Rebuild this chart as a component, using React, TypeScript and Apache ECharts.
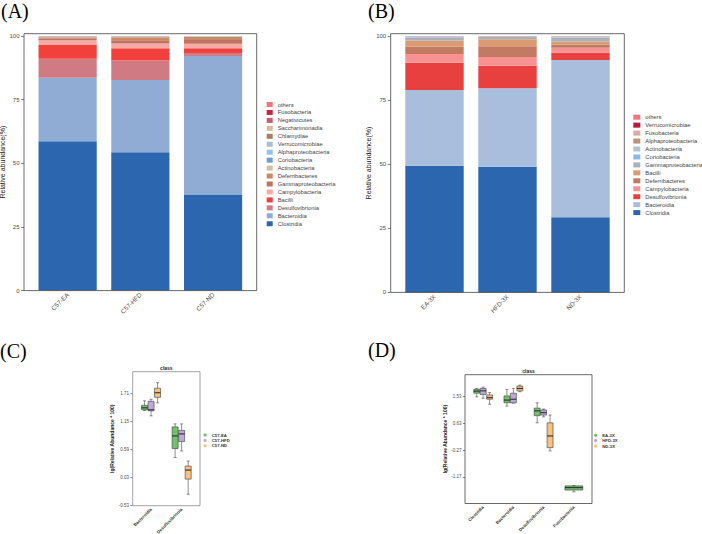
import React, { useEffect, useRef } from 'react';
import * as echarts from 'echarts';

const W = 702;
const H = 534;
const SANS = '"Liberation Sans", Arial, Helvetica, sans-serif';
const SERIF = '"Liberation Serif", "Times New Roman", serif';

// ---------- (A) class composition, C57 groups ----------
const aSamples = ['C57-EA', 'C57-HFD', 'C57-ND'];
const aClasses = [
  'Clostridia', 'Bacteroidia', 'Desulfovibrionia', 'Bacilli', 'Campylobacteria',
  'Gammaproteobacteria', 'Deferribacteres', 'Actinobacteria', 'Coriobacteria',
  'Alphaproteobacteria', 'Verrucomicrobiae', 'Chlamydiae', 'Saccharimonadia',
  'Negativicutes', 'Fusobacteria', 'others',
];
// relative abundance (%) per class, columns follow aSamples
const aAbundance = [
  [58.7, 54.3, 37.5],
  [24.9, 28.4, 54.6],
  [7.5, 7.7, 1.2],
  [5.4, 4.8, 1.9],
  [1.8, 1.9, 1.8],
  [0.6, 1.2, 1.4],
  [0.5, 1.2, 1.2],
  [0.15, 0.15, 0.15],
  [0.1, 0.1, 0.08],
  [0.05, 0.05, 0.03],
  [0.05, 0.05, 0.04],
  [0.05, 0.02, 0.02],
  [0.05, 0.03, 0.03],
  [0.05, 0.02, 0.02],
  [0.02, 0.01, 0.01],
  [0.08, 0.07, 0.02],
];
const aColors = [
  '#2c66af', '#91acd4', '#d07a83', '#f2403d', '#f8aaa5',
  '#c27262', '#c98a64', '#d9bca4', '#6a9fd2', '#92c3ea',
  '#aabdd0', '#a97e5c', '#d9bb9c', '#c95c6c', '#c9213e', '#f2747a',
];

// ---------- (B) class composition, 3X groups ----------
const bSamples = ['EA-3X', 'HFD-3X', 'ND-3X'];
const bClasses = [
  'Clostridia', 'Bacteroidia', 'Desulfovibrionia', 'Campylobacteria', 'Deferribacteres',
  'Bacilli', 'Gammaproteobacteria', 'Coriobacteria', 'Actinobacteria',
  'Alphaproteobacteria', 'Fusobacteria', 'Verrucomicrobiae', 'others',
];
const bAbundance = [
  [49.4, 49.0, 29.3],
  [29.5, 30.6, 61.3],
  [10.7, 8.8, 2.9],
  [3.4, 3.4, 1.9],
  [2.8, 4.2, 1.2],
  [2.4, 2.7, 1.3],
  [1.2, 0.9, 1.5],
  [0.2, 0.1, 0.1],
  [0.2, 0.15, 0.3],
  [0.05, 0.03, 0.05],
  [0.05, 0.05, 0.05],
  [0.02, 0.02, 0.02],
  [0.08, 0.05, 0.08],
];
const bColors = [
  '#2c66af', '#a9bedc', '#e8403f', '#f89292', '#c27a62',
  '#da9a72', '#a9b1ba', '#8abbe9', '#b2c2d2', '#b99272',
  '#dcaaa2', '#b91a42', '#f2747c',
];

const barTicks = [0, 25, 50, 75, 100];

// ---------- (C) boxplots, C57 groups ----------
const cCategories = ['Bacteroidia', 'Desulfovibrionia'];
const cGroups = ['C57-EA', 'C57-HFD', 'C57-ND'];
// [min, Q1, median, Q3, max] of lg(relative abundance * 100)
const cEA = [[1.37, 1.38, 1.42, 1.47, 1.56], [0.43, 0.61, 0.86, 1.04, 1.10]];
const cHFD = [[1.26, 1.36, 1.38, 1.55, 1.59], [0.56, 0.75, 0.90, 0.97, 1.10]];
const cND = [[1.52, 1.63, 1.72, 1.81, 1.92], [-0.30, 0.0, 0.18, 0.26, 0.36]];
const cTicks = [-0.53, 0.03, 0.59, 1.15, 1.71];

// ---------- (D) boxplots, 3X groups ----------
const dCategories = ['Clostridia', 'Bacteroidia', 'Desulfovibrionia', 'Fusobacteriia'];
const dGroups = ['EA-3X', 'HFD-3X', 'ND-3X'];
const dEA = [
  [1.51, 1.63, 1.70, 1.76, 1.79],
  [1.20, 1.31, 1.40, 1.54, 1.76],
  [0.64, 0.88, 1.04, 1.13, 1.31],
  [-1.67, -1.61, -1.53, -1.47, -1.46],
];
const dHFD = [
  [1.46, 1.59, 1.71, 1.79, 1.83],
  [1.30, 1.31, 1.43, 1.63, 1.79],
  [0.84, 0.90, 0.98, 1.07, 1.10],
  null,
];
const dND = [
  [1.26, 1.43, 1.48, 1.57, 1.65],
  [1.68, 1.71, 1.79, 1.87, 1.90],
  [-0.30, -0.19, 0.20, 0.64, 0.90],
  null,
];
const dTicks = [-1.17, -0.27, 0.63, 1.53];

const boxFills = ['#72c26c', '#bda9d9', '#f9c07f'];

type Frame = { x0: number; x1: number; y0: number; y1: number };

// ggplot-style discrete axis: 0.6 band of padding on each side of the outer categories
function bandLayout(f: Frame, n: number) {
  const unit = (f.x1 - f.x0) / (n - 1 + 1.2);
  return { unit, left: f.x0 + 0.1 * unit, width: n * unit, offset: 0.1 * unit };
}

function frameRect(f: Frame, stroke: string) {
  return {
    type: 'rect',
    silent: true,
    z: 20,
    shape: { x: f.x0, y: f.y0, width: f.x1 - f.x0, height: f.y1 - f.y0 },
    style: { fill: 'none', stroke, lineWidth: 0.8 },
  };
}

function panelLabel(text: string, x: number, y: number) {
  return {
    type: 'text',
    x,
    y,
    style: { text, font: `20px ${SERIF}`, fill: '#000', textAlign: 'left', textVerticalAlign: 'middle' },
  };
}

type BarCfg = {
  frame: Frame;
  samples: string[];
  classes: string[];
  values: number[][];
  colors: string[];
  yMax: number;
  nameGap: number;
  legendLeft: number;
  legendTop: number;
  legendIconW: number;
  label: string;
  labelX: number;
};

function stackedBarOption(c: BarCfg) {
  const g = bandLayout(c.frame, c.samples.length);
  return {
    animation: false,
    textStyle: { fontFamily: SANS },
    grid: {
      left: g.left,
      top: c.frame.y0,
      width: g.width,
      height: c.frame.y1 - c.frame.y0,
      containLabel: false,
      outerBoundsMode: 'none',
    },
    xAxis: {
      type: 'category',
      data: c.samples,
      axisLine: { show: false },
      axisTick: { alignWithLabel: true, length: 3, lineStyle: { color: '#333', width: 0.6 } },
      axisLabel: { rotate: 45, fontSize: 6.3, color: '#4d4d4d', margin: 3, interval: 0, fontFamily: SANS },
      splitLine: { show: false },
    },
    yAxis: {
      type: 'value',
      min: 0,
      max: c.yMax,
      offset: g.offset,
      axisLine: { show: false },
      axisTick: { show: true, length: 3, lineStyle: { color: '#333', width: 0.6 }, customValues: barTicks },
      axisLabel: { fontSize: 6, color: '#4d4d4d', margin: 4.5, fontFamily: SANS, customValues: barTicks },
      splitLine: { show: false },
      name: 'Relative abundance(%)',
      nameLocation: 'middle',
      nameGap: c.nameGap,
      nameTextStyle: { fontSize: 7, color: '#222', fontFamily: SANS },
    },
    legend: {
      orient: 'vertical',
      left: c.legendLeft,
      top: c.legendTop,
      padding: 0,
      itemWidth: c.legendIconW,
      itemHeight: 5,
      itemGap: 1.95,
      icon: 'rect',
      selectedMode: false,
      data: [...c.classes].reverse(),
      textStyle: { fontSize: 5.8, lineHeight: 5, color: '#444', fontFamily: SANS },
    },
    graphic: [frameRect(c.frame, '#444'), panelLabel(c.label, c.labelX, 10.5)],
    series: c.classes.map((name, i) => ({
      type: 'bar',
      name,
      stack: 'total',
      barWidth: '80%',
      data: c.values[i],
      itemStyle: { color: c.colors[i] },
      emphasis: { disabled: true },
    })),
  };
}

type BoxCfg = {
  frame: Frame;
  categories: string[];
  groups: string[];
  stats: (number[] | null)[][];
  ticks: number[];
  yMin: number;
  yMax: number;
  nameGap: number;
  labelMargin: number;
  legendLeft: number;
  legendTop: number;
  frameColor: string;
  label: string;
  labelX: number;
  labelY: number;
};

function boxOption(c: BoxCfg) {
  const g = bandLayout(c.frame, c.categories.length);
  const series = c.groups.map((name, gi) => {
    const data = c.categories
      .map((_, ci) => {
        const s = c.stats[gi][ci];
        return s ? [ci, ...s] : null;
      })
      .filter((d) => d !== null);
    return {
      type: 'custom',
      name,
      itemStyle: { color: boxFills[gi] },
      encode: { x: 0, y: [1, 2, 3, 4, 5] },
      data,
      renderItem: (_params: any, api: any) => {
        const ci = api.value(0);
        // groups that have a box in this category share the dodge width
        const present = c.stats.map((s, k) => (s[ci] ? k : -1)).filter((k) => k >= 0);
        const n = present.length;
        const k = present.indexOf(gi);
        const band = api.size([1, 0])[0];
        const dodge = band * 0.64;
        const slot = dodge / n;
        const boxW = slot * 0.92;
        const capW = Math.min(boxW * 0.5, 3.2);
        const center = api.coord([ci, 0])[0];
        const cx = center - dodge / 2 + slot * (k + 0.5);
        const [yMin, yQ1, yMed, yQ3, yMax] = [1, 2, 3, 4, 5].map((d) => api.coord([ci, api.value(d)])[1]);
        const wStyle = { stroke: '#444', lineWidth: 0.6 };
        return {
          type: 'group',
          children: [
            { type: 'line', shape: { x1: cx, y1: yMax, x2: cx, y2: yQ3 }, style: wStyle },
            { type: 'line', shape: { x1: cx, y1: yQ1, x2: cx, y2: yMin }, style: wStyle },
            { type: 'line', shape: { x1: cx - capW / 2, y1: yMax, x2: cx + capW / 2, y2: yMax }, style: wStyle },
            { type: 'line', shape: { x1: cx - capW / 2, y1: yMin, x2: cx + capW / 2, y2: yMin }, style: wStyle },
            {
              type: 'rect',
              shape: { x: cx - boxW / 2, y: yQ3, width: boxW, height: Math.max(yQ1 - yQ3, 0.8) },
              style: { fill: boxFills[gi], stroke: '#3a3a3a', lineWidth: 0.6 },
            },
            {
              type: 'line',
              shape: { x1: cx - boxW / 2, y1: yMed, x2: cx + boxW / 2, y2: yMed },
              style: { stroke: '#222', lineWidth: 1 },
            },
          ],
        };
      },
    };
  });

  const cx = (c.frame.x0 + c.frame.x1) / 2;
  return {
    animation: false,
    textStyle: { fontFamily: SANS },
    grid: {
      left: g.left,
      top: c.frame.y0,
      width: g.width,
      height: c.frame.y1 - c.frame.y0,
      containLabel: false,
      outerBoundsMode: 'none',
    },
    xAxis: {
      type: 'category',
      data: c.categories,
      axisLine: { show: false },
      axisTick: { alignWithLabel: true, length: 2.2, lineStyle: { color: '#333', width: 0.6 } },
      axisLabel: { rotate: 45, fontSize: 4.4, fontWeight: 'bold', color: '#333', margin: 3, interval: 0, fontFamily: SANS },
      splitLine: { show: false },
    },
    yAxis: {
      type: 'value',
      min: c.yMin,
      max: c.yMax,
      offset: g.offset,
      axisLine: { show: false },
      axisTick: { show: true, length: 2.2, lineStyle: { color: '#333', width: 0.6 }, customValues: c.ticks },
      axisLabel: {
        fontSize: 4.5,
        color: '#4d4d4d',
        margin: c.labelMargin,
        fontFamily: SANS,
        customValues: c.ticks,
        formatter: (v: number) => v.toFixed(2),
      },
      splitLine: { show: false },
      name: 'lg(Relative Abundance * 100)',
      nameLocation: 'middle',
      nameGap: c.nameGap,
      nameTextStyle: { fontSize: 5, fontWeight: 'bold', color: '#222', fontFamily: SANS },
    },
    legend: {
      orient: 'vertical',
      left: c.legendLeft,
      top: c.legendTop,
      padding: 0,
      itemWidth: 3.2,
      itemHeight: 3.2,
      itemGap: 0,
      icon: 'circle',
      selectedMode: false,
      data: c.groups,
      textStyle: { fontSize: 4.3, lineHeight: 5.4, fontWeight: 'bold', color: '#333', fontFamily: SANS },
    },
    graphic: [
      frameRect(c.frame, c.frameColor),
      panelLabel(c.label, c.labelX, c.labelY),
      {
        type: 'text',
        x: cx,
        y: c.frame.y0 - 4,
        style: { text: 'class', font: `bold 5px ${SANS}`, fill: '#222', textAlign: 'center', textVerticalAlign: 'middle' },
      },
    ],
    series,
  };
}

const optA = stackedBarOption({
  frame: { x0: 24, x1: 256.7, y0: 33.7, y1: 290.6 },
  samples: aSamples,
  classes: aClasses,
  values: aAbundance,
  colors: aColors,
  yMax: 100.9,
  nameGap: 14,
  legendLeft: 266.7,
  legendTop: 101.5,
  legendIconW: 6,
  label: '(A)',
  labelX: 1,
});

const optB = stackedBarOption({
  frame: { x0: 390.7, x1: 624.3, y0: 33.7, y1: 292.4 },
  samples: bSamples,
  classes: bClasses,
  values: bAbundance,
  colors: bColors,
  yMax: 100.9,
  nameGap: 13,
  legendLeft: 633.3,
  legendTop: 114.2,
  legendIconW: 7,
  label: '(B)',
  labelX: 368,
});

const optC = boxOption({
  frame: { x0: 132.7, x1: 200, y0: 371.7, y1: 505.7 },
  categories: cCategories,
  groups: cGroups,
  stats: [cEA, cHFD, cND],
  ticks: cTicks,
  yMin: -0.53,
  yMax: 2.14,
  nameGap: 15.2,
  labelMargin: 3.7,
  legendLeft: 203.5,
  legendTop: 432.3,
  frameColor: '#8a8a8a',
  label: '(C)',
  labelX: 0,
  labelY: 350.5,
});

const optD = boxOption({
  frame: { x0: 465, x1: 592, y0: 374.7, y1: 503.5 },
  categories: dCategories,
  groups: dGroups,
  stats: [dEA, dHFD, dND],
  ticks: dTicks,
  yMin: -2.06,
  yMax: 2.25,
  nameGap: 12.5,
  labelMargin: 3.5,
  legendLeft: 594,
  legendTop: 432.6,
  frameColor: '#444',
  label: '(D)',
  labelX: 368,
  labelY: 350,
});

function Panel({ option }: { option: any }) {
  const ref = useRef<HTMLDivElement>(null);
  useEffect(() => {
    if (!ref.current) return;
    const chart = echarts.init(ref.current, null, { renderer: 'svg' });
    chart.setOption(option);
    return () => chart.dispose();
  }, [option]);
  return <div ref={ref} style={{ position: 'absolute', left: 0, top: 0, width: W, height: H }} />;
}

export default function App() {
  return (
    <div style={{ position: 'absolute', left: 0, top: 0, width: W, height: H, background: '#fff', overflow: 'hidden' }}>
      <Panel option={optA} />
      <Panel option={optB} />
      <Panel option={optC} />
      <Panel option={optD} />
    </div>
  );
}
